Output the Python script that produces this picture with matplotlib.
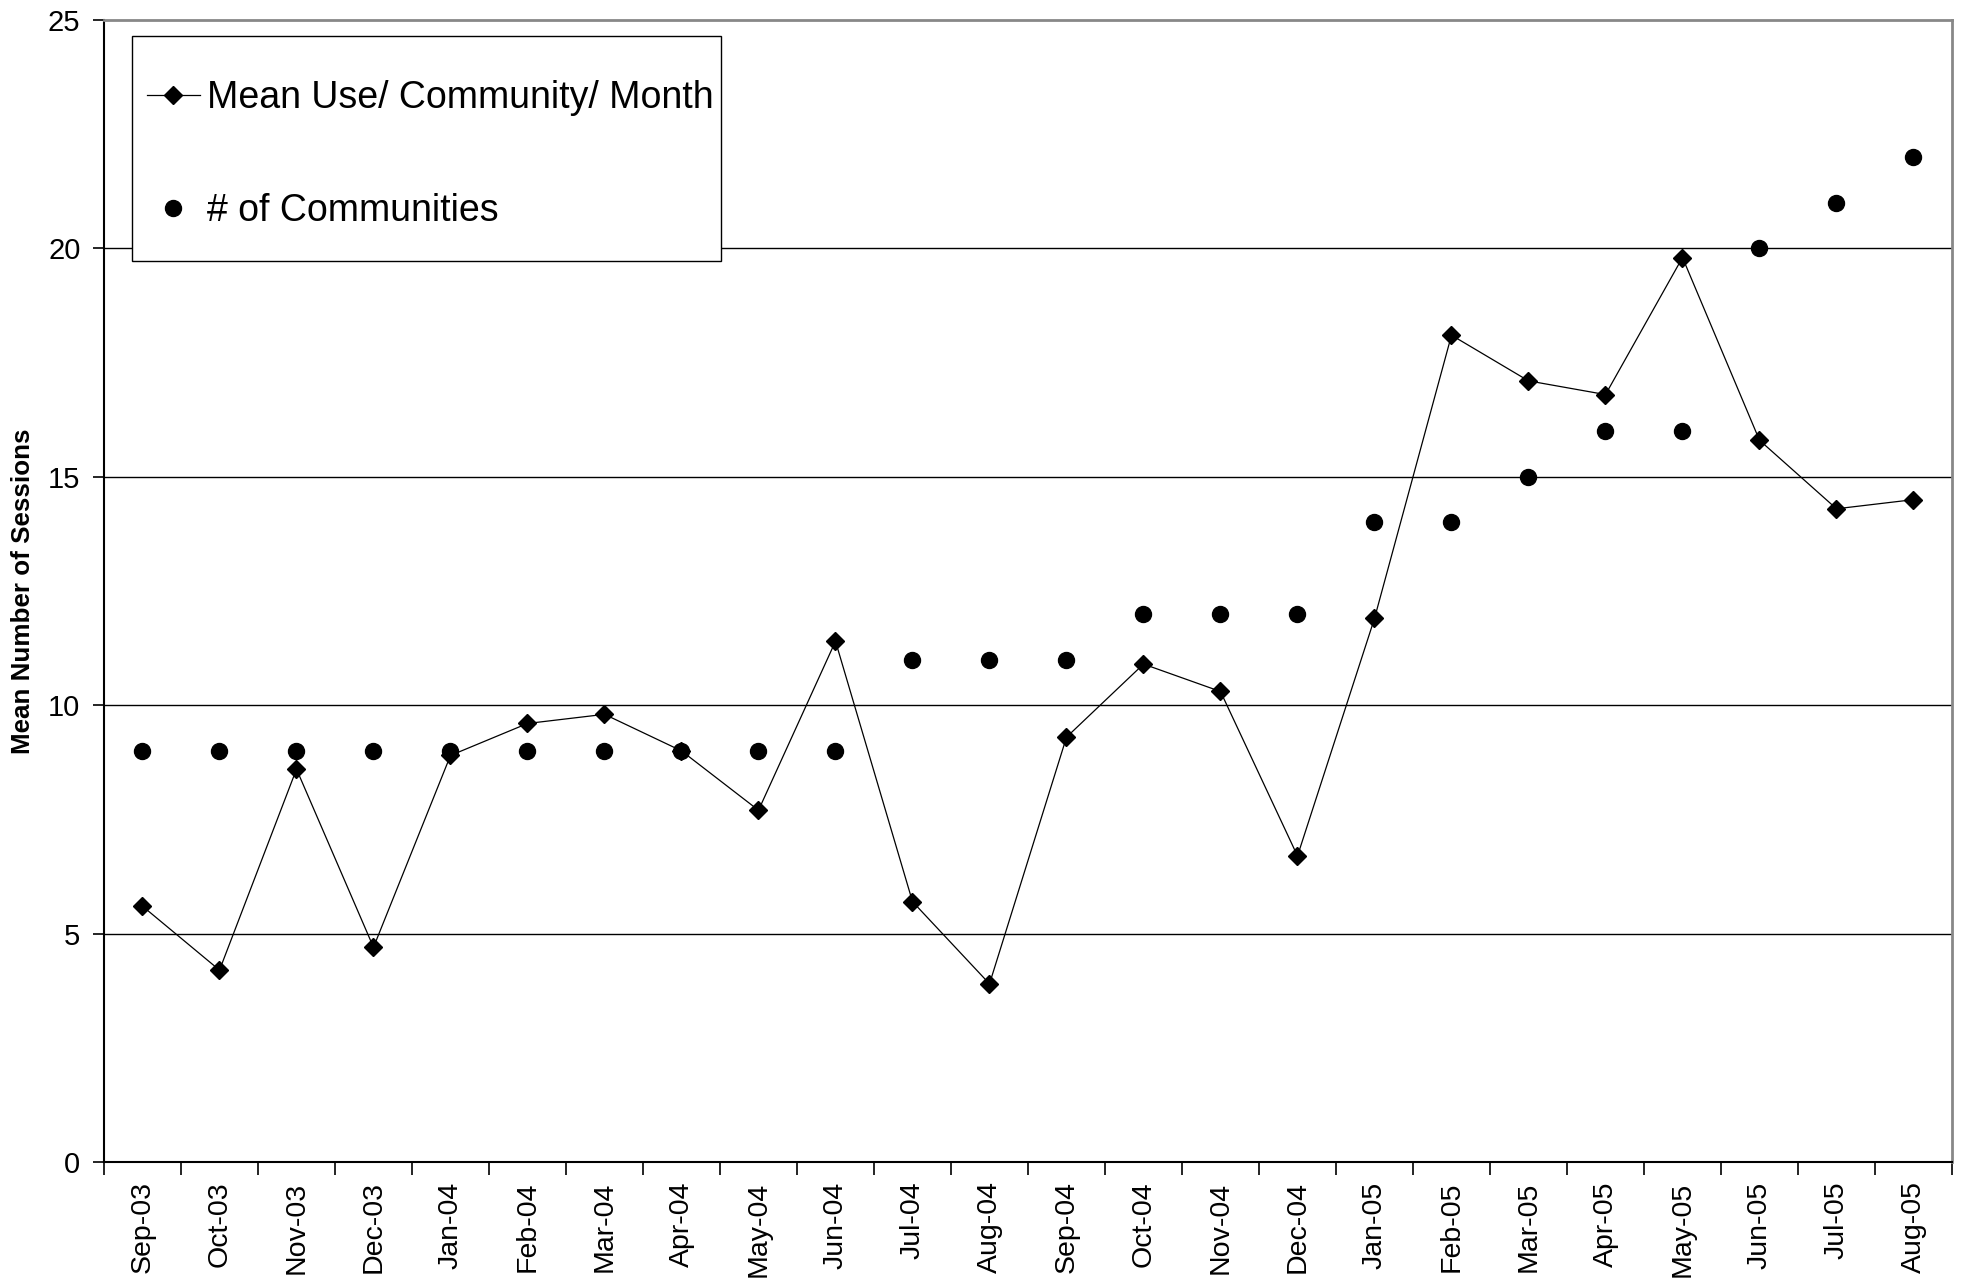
import matplotlib
matplotlib.use("Agg")
import matplotlib.pyplot as plt
from matplotlib.patches import Rectangle
import numpy as np

plt.rcParams['font.family'] = ['Liberation Sans', 'DejaVu Sans']

# data
months = ['Sep-03', 'Oct-03', 'Nov-03', 'Dec-03', 'Jan-04', 'Feb-04', 'Mar-04', 'Apr-04',
          'May-04', 'Jun-04', 'Jul-04', 'Aug-04', 'Sep-04', 'Oct-04', 'Nov-04', 'Dec-04',
          'Jan-05', 'Feb-05', 'Mar-05', 'Apr-05', 'May-05', 'Jun-05', 'Jul-05', 'Aug-05']
mean_use = [5.6, 4.2, 8.6, 4.7, 8.9, 9.6, 9.8, 9.0, 7.7, 11.4, 5.7, 3.9,
            9.3, 10.9, 10.3, 6.7, 11.9, 18.1, 17.1, 16.8, 19.8, 15.8, 14.3, 14.5]
communities = [9, 9, 9, 9, 9, 9, 9, 9, 9, 9, 11, 11,
               11, 12, 12, 12, 14, 14, 15, 16, 16, 20, 21, 22]
y_ticks = [0, 5, 10, 15, 20, 25]

W, H = 1965, 1283
fig = plt.figure(figsize=(W / 100, H / 100), dpi=100)
ax = fig.add_axes([104 / W, 1 - 1162 / H, (1952 - 104) / W, (1162 - 20) / H])

x = np.arange(len(months))

# gridlines
for y in y_ticks[1:-1]:
    ax.axhline(y, color='black', lw=1.0, zorder=1)

ax.plot(x, mean_use, color='black', lw=0.9, marker='D', markersize=9,
        label='Mean Use/ Community/ Month', zorder=3)
ax.plot(x, communities, color='black', ls='none', marker='o', markersize=11.5,
        label='# of Communities', zorder=3)

ax.set_xlim(-0.5, len(months) - 0.5)
ax.set_ylim(0, 25)
ax.set_yticks(y_ticks)
ax.set_yticklabels([str(v) for v in y_ticks], fontsize=21)
ax.set_xticks(x)
ax.set_xticklabels(months, rotation=90, fontsize=20.5)
ax.set_xticks(np.arange(-0.5, len(months)), minor=True)
ax.tick_params(axis='x', which='major', length=0, pad=14)
ax.tick_params(axis='x', which='minor', length=9, width=1.2, direction='out')
ax.tick_params(axis='y', length=8, width=1.2, direction='out', pad=9)

for side in ['left', 'bottom']:
    ax.spines[side].set_color('black')
    ax.spines[side].set_linewidth(1.5)
for side in ['top', 'right']:
    ax.spines[side].set_color('#888888')
    ax.spines[side].set_linewidth(2)

ax.set_ylabel('Mean Number of Sessions', fontsize=18.7, fontweight='bold', labelpad=9)

# legend box drawn by hand, entries placed inside it
fig.patches.append(Rectangle((132 / W, 1 - 261 / H), (721 - 132) / W, (261 - 36) / H,
                             transform=fig.transFigure, facecolor='white',
                             edgecolor='black', lw=1.0, zorder=5))
leg = fig.legend(loc='upper left', bbox_to_anchor=(147 / W, 1 - 80 / H),
                 fontsize=27, frameon=False, borderaxespad=0, borderpad=0,
                 labelspacing=2.05, handlelength=1.4, handletextpad=0.2)
leg.set_zorder(6)

fig.savefig('out.png', dpi=100)
